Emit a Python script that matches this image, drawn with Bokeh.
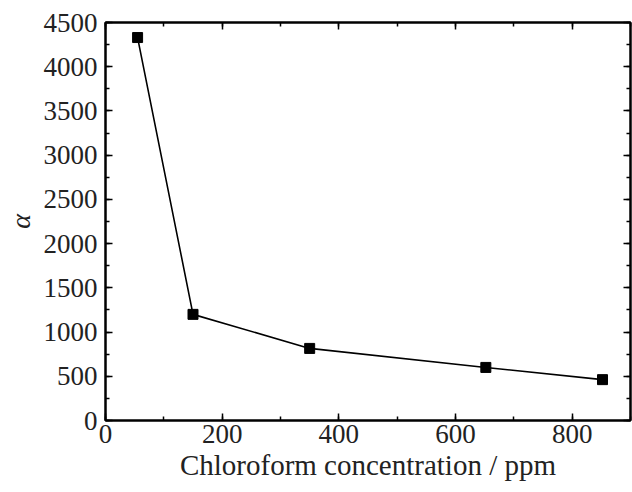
from bokeh.plotting import figure
from bokeh.models import LinearAxis, Range1d, SingleIntervalTicker
from bokeh.embed import file_html
from bokeh.resources import INLINE

concentration = [55, 150, 350, 652, 852]
alpha = [4330, 1200, 815, 600, 462]

FONT = "Liberation Serif"

p = figure(width=632, height=492, output_backend="svg", toolbar_location=None,
           x_range=Range1d(0, 900), y_range=Range1d(0, 4500),
           min_border_left=105, min_border_right=2, min_border_top=22, min_border_bottom=72,
           x_axis_location=None, y_axis_location=None)
p.grid.visible = False
p.outline_line_color = "black"
p.outline_line_width = 2
p.background_fill_color = "white"
p.border_fill_color = "white"

def style(ax, labels=True):
    ax.axis_line_color = "black"
    ax.axis_line_width = 2
    ax.major_tick_in = 7
    ax.major_tick_out = 0
    ax.minor_tick_in = 4
    ax.minor_tick_out = 0
    ax.major_tick_line_width = 1.5
    ax.minor_tick_line_width = 1.5
    ax.major_label_text_font = FONT
    ax.major_label_text_font_size = "27px"
    ax.major_label_text_color = "#222222"
    if not labels:
        ax.major_label_text_font_size = "0px"
        ax.major_label_text_alpha = 0

xt = lambda: SingleIntervalTicker(interval=200, num_minor_ticks=2)
yt = lambda: SingleIntervalTicker(interval=500, num_minor_ticks=2)

xb = LinearAxis(ticker=xt(), axis_label="Chloroform concentration / ppm")
style(xb)
xb.major_label_standoff = 4
xb.axis_label_text_font = FONT
xb.axis_label_text_font_style = "normal"
xb.axis_label_text_font_size = "29px"
xb.axis_label_standoff = 3
xb.axis_label_text_color = "#222222"
p.add_layout(xb, "below")

yl = LinearAxis(ticker=yt(), axis_label="α")
style(yl)
yl.major_label_standoff = 8
yl.axis_label_text_font = FONT
yl.axis_label_text_font_style = "italic"
yl.axis_label_text_font_size = "28px"
yl.axis_label_standoff = 5
yl.axis_label_text_color = "#222222"
p.add_layout(yl, "left")

xtop = LinearAxis(ticker=xt())
style(xtop, labels=False)
p.add_layout(xtop, "above")

yr = LinearAxis(ticker=yt())
style(yr, labels=False)
p.add_layout(yr, "right")

p.line(concentration, alpha, line_color="black", line_width=1.6)
p.scatter(concentration, alpha, marker="square", size=10, fill_color="black", line_color="black")

open("out.html", "w").write(file_html(p, INLINE))
